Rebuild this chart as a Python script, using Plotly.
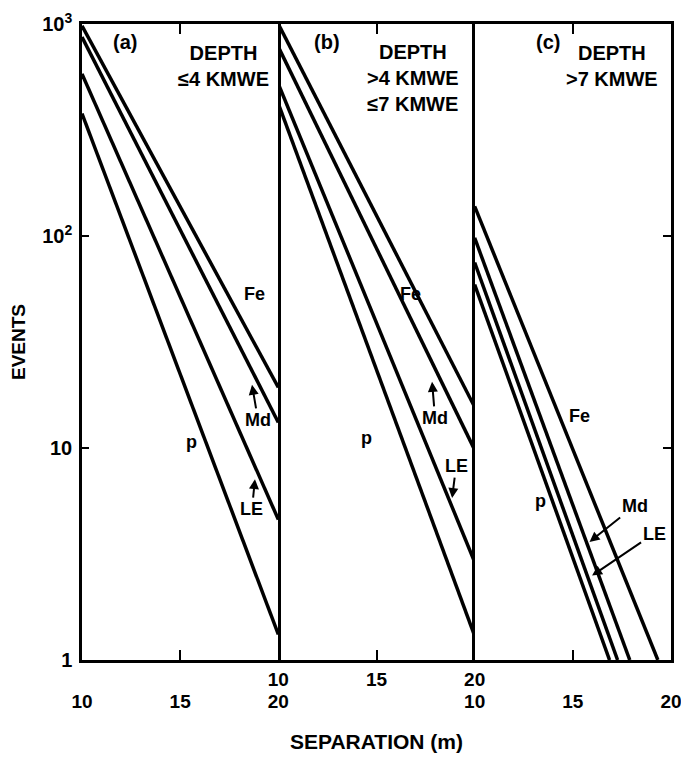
import math
import plotly.graph_objects as go
from plotly.subplots import make_subplots

# ---------------- data ----------------
panels = ["a", "b", "c"]
x_full = [10, 20]

# panel (a)  depth <= 4 kmwe
fe_a = [980, 19.3]
md_a = [868, 13.2]
le_a = [582, 4.6]
p_a = [378, 1.32]

# panel (b)  4 < depth <= 7 kmwe
fe_b = [1000, 15.6]
md_b = [780, 9.8]
le_b = [522, 2.9]
p_b = [421, 1.30]

# panel (c)  depth > 7 kmwe  (lines reach 1 event before 20 m)
fe_c_x = [10, 19.33]
fe_c = [138, 1]
md_c_x = [10, 17.9]
md_c = [98, 1]
le_c_x = [10, 17.28]
le_c = [75, 1]
p_c_x = [10, 16.87]
p_c = [59, 1]

y_tickvals = [1, 10, 100, 1000]
y_ticktext = ["1", "10", "10<sup>2</sup>", "10<sup>3</sup>"]
x_tickvals = [10, 15, 20]
x_ticktext = ["10", "15", "20"]

panel_tags = ["(a)", "(b)", "(c)"]
depth_text = ["DEPTH<br>≤4 KMWE", "DEPTH<br>>4 KMWE<br>≤7 KMWE", "DEPTH<br>>7 KMWE"]

FONT = "Liberation Sans"

fig = make_subplots(rows=1, cols=3, shared_yaxes=True, horizontal_spacing=0)

series = [
    (1, [(x_full, fe_a), (x_full, md_a), (x_full, le_a), (x_full, p_a)]),
    (2, [(x_full, fe_b), (x_full, md_b), (x_full, le_b), (x_full, p_b)]),
    (3, [(fe_c_x, fe_c), (md_c_x, md_c), (le_c_x, le_c), (p_c_x, p_c)]),
]
names = ["Fe", "Md", "LE", "p"]
for col, lines in series:
    for name, (xs, ys) in zip(names, lines):
        fig.add_trace(
            go.Scatter(x=xs, y=ys, mode="lines", name=name, showlegend=False,
                       line=dict(color="black", width=3.5), cliponaxis=True),
            row=1, col=col,
        )

axis_common = dict(linecolor="black", linewidth=2.5, showgrid=False,
                   zeroline=False, automargin=False, ticklabeloverflow="allow")

for i in range(1, 4):
    standoff = 0 if i == 2 else 22
    fig.update_xaxes(
        range=[10, 20], tickvals=x_tickvals, ticktext=x_ticktext, showline=True,
        ticks="inside", ticklen=10, tickwidth=2, tickcolor="black", mirror="ticks",
        ticklabelstandoff=standoff,
        tickfont=dict(family=FONT, size=19, color="black", weight="bold"),
        row=1, col=i, **axis_common,
    )

fig.update_yaxes(type="log", range=[0, 3], **axis_common)
fig.update_yaxes(
    showline=True, mirror=True,
    tickvals=y_tickvals, ticktext=y_ticktext, ticks="inside", ticklen=7,
    tickwidth=2, tickcolor="black", ticklabelstandoff=3,
    tickfont=dict(family=FONT, size=20, color="black", weight="bold"),
    title=dict(text="EVENTS", standoff=12,
               font=dict(family=FONT, size=19, color="black", weight="bold")),
    row=1, col=1,
)
fig.update_yaxes(showline=False, ticks="", row=1, col=2)
fig.update_yaxes(showline=True, mirror=True, side="right", tickvals=y_tickvals,
                 ticks="inside", ticklen=8, tickwidth=2, tickcolor="black",
                 showticklabels=False, row=1, col=3)

ann_font = dict(family=FONT, size=20, color="black", weight="bold")
lbl_font = dict(family=FONT, size=18, color="black", weight="bold")
annotations = []

# panel tags and depth labels
tag_pos = [(12.19, 2.916), (12.48, 2.916), (13.73, 2.916)]
depth_pos = [(17.2, 2.80), (16.86, 2.747), (17.0, 2.80)]
for i in range(3):
    xr = "x" if i == 0 else f"x{i+1}"
    annotations.append(dict(x=tag_pos[i][0], y=tag_pos[i][1], xref=xr, yref="y",
                            text=panel_tags[i], showarrow=False, font=ann_font))
    annotations.append(dict(x=depth_pos[i][0], y=depth_pos[i][1], xref=xr, yref="y",
                            text=depth_text[i], showarrow=False, font=ann_font,
                            align="center"))

# plain line labels
plain = [
    ("x", "Fe", 18.81, 1.725), ("x", "p", 15.60, 1.026),
    ("x2", "Fe", 16.71, 1.725), ("x2", "p", 14.47, 1.045),
    ("x3", "Fe", 15.36, 1.153), ("x3", "p", 13.33, 0.750),
]
for xr, t, xv, yv in plain:
    annotations.append(dict(x=xv, y=yv, xref=xr, yref="y", text=t, showarrow=False,
                            font=lbl_font))

# labels with arrows (tip position, text offset in px)
arrowed = [
    ("x", "Md", 18.66, 1.298, 6, 35),
    ("x", "LE", 18.81, 0.853, -3, 30),
    ("x2", "Md", 17.83, 1.312, 3, 36),
    ("x2", "LE", 18.85, 0.764, 4, -32),
    ("x3", "Md", 15.85, 0.557, 45, -36),
    ("x3", "LE", 15.98, 0.398, 62, -42),
]
for xr, t, xv, yv, axp, ayp in arrowed:
    annotations.append(dict(x=xv, y=yv, xref=xr, yref="y", text=t, showarrow=True,
                            ax=axp, ay=ayp, arrowhead=2, arrowsize=1, arrowwidth=2,
                            arrowcolor="black", standoff=0, font=lbl_font))

fig.update_layout(
    width=689, height=757,
    margin=dict(l=74, r=26, t=16, b=105),
    paper_bgcolor="white", plot_bgcolor="white",
    annotations=annotations,
    showlegend=False,
)
fig.update_xaxes(title=dict(text="SEPARATION (m)", standoff=46,
                            font=dict(family=FONT, size=21, color="black", weight="bold")),
                 row=1, col=2)

fig.write_html("out.html")
